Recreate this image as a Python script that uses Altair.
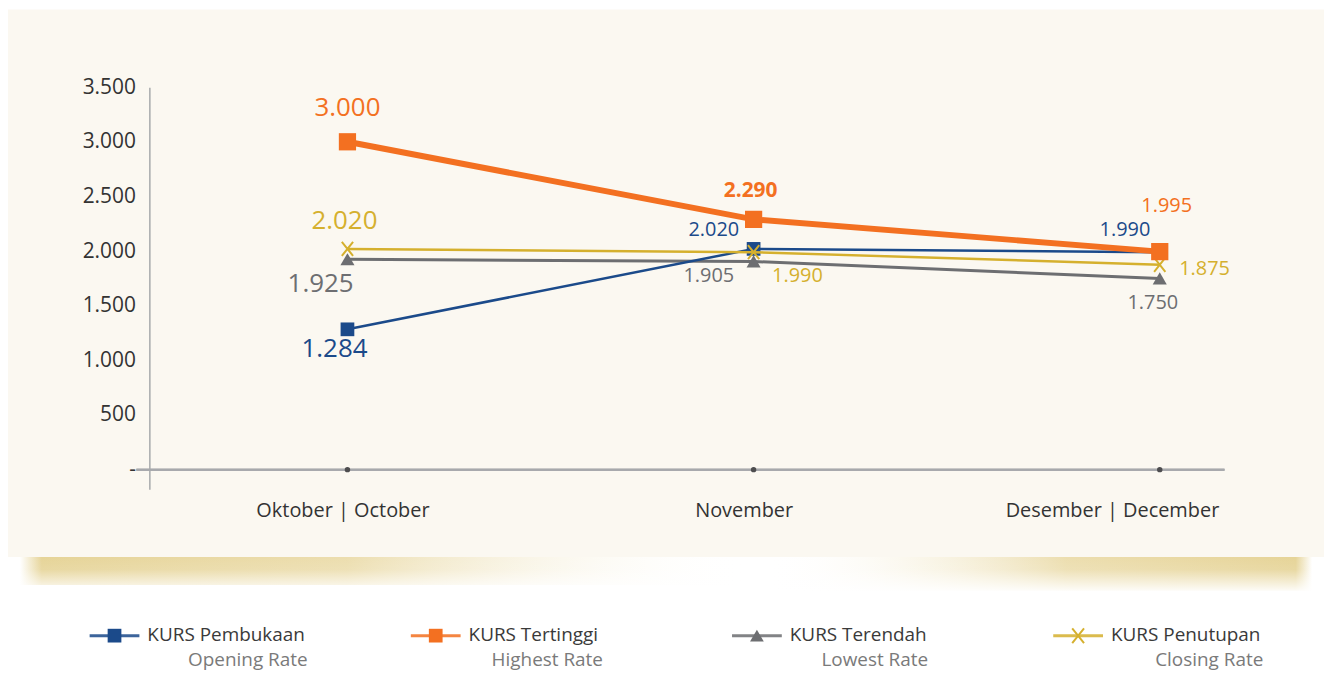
import altair as alt
import pandas as pd

# ---------------- data ----------------
months = ["Oktober | October", "November", "Desember | December"]
series_id = ["KURS Pembukaan", "KURS Tertinggi", "KURS Terendah", "KURS Penutupan"]
series_en = ["Opening Rate", "Highest Rate", "Lowest Rate", "Closing Rate"]
opening = [1284, 2020, 1990]
highest = [3000, 2290, 1995]
lowest = [1925, 1905, 1750]
closing = [2020, 1990, 1875]
y_ticks = [0, 500, 1000, 1500, 2000, 2500, 3000, 3500]

values = {
    "KURS Pembukaan": opening,
    "KURS Tertinggi": highest,
    "KURS Terendah": lowest,
    "KURS Penutupan": closing,
}

# ---------------- styles ----------------
FONT = "Open Sans"
colors = {
    "KURS Pembukaan": "#1B4A8A",
    "KURS Tertinggi": "#F37021",
    "KURS Terendah": "#6D6E71",
    "KURS Penutupan": "#D5B02E",
}
line_width = {"KURS Pembukaan": 2.5, "KURS Tertinggi": 6, "KURS Terendah": 3, "KURS Penutupan": 2.5}
shapes = {
    "KURS Pembukaan": ("square", 190, True),
    "KURS Tertinggi": ("square", 300, True),
    "KURS Terendah": ("triangle-up", 200, True),
    "KURS Penutupan": ("M-0.8,-1L0.8,1M0.8,-1L-0.8,1", 200, False),
}
draw_order = ["KURS Terendah", "KURS Pembukaan", "KURS Penutupan", "KURS Tertinggi"]

# label placement (dx, dy, fontSize, weight) per series / month index
label_style = {
    ("KURS Pembukaan", 0): (-13, 20, 26, "normal"),
    ("KURS Pembukaan", 1): (-40, -19, 20, "normal"),
    ("KURS Pembukaan", 2): (-35, -22, 20, "normal"),
    ("KURS Tertinggi", 0): (0, -34, 26, "normal"),
    ("KURS Tertinggi", 1): (-3, -28, 21, "bold"),
    ("KURS Tertinggi", 2): (7, -46, 20, "normal"),
    ("KURS Terendah", 0): (-27, 25, 26, "normal"),
    ("KURS Terendah", 1): (-45, 15, 20, "normal"),
    ("KURS Terendah", 2): (-7, 25, 20, "normal"),
    ("KURS Penutupan", 0): (-3, -28, 26, "normal"),
    ("KURS Penutupan", 1): (44, 24, 20, "normal"),
    ("KURS Penutupan", 2): (45, 4, 20, "normal"),
}
legend_line2_end = [219, 193, 197, 211]

W, H = 1080, 404

rows = []
for s in series_id:
    for i, m in enumerate(months):
        v = values[s][i]
        rows.append({"series": s, "month": m, "mi": i, "value": v,
                     "label": f"{v:,}".replace(",", ".")})
df = pd.DataFrame(rows)
df_axis = pd.DataFrame({"month": months, "value": [0] * len(months)})
df_leg = pd.DataFrame({"series": series_id, "en": series_en, "idx": list(range(len(series_id)))})
one = pd.DataFrame({"a": [0]})

x_axis = alt.Axis(
    title=None, domain=False, ticks=False, labelAngle=0, zindex=1,
    labelFont=FONT, labelFontSize=20, labelColor="#333333",
    labelPadding=11, labelOverlap=False, labelLimit=0,
    labelOffset={"expr": "datum.value == 'Desember | December' ? -48 : (datum.value == 'November' ? -10 : -5)"},
)
x_enc = alt.X("month:N", sort=months,
              scale=alt.Scale(domain=months, range=[199, 1015], padding=0), axis=x_axis)
y_scale = alt.Scale(domain=[-180, 3500], nice=False, zero=False)
y_axis = alt.Axis(
    title=None, values=y_ticks, ticks=False, grid=False, zindex=1,
    domain=True, domainColor="#A7A9AC", domainWidth=1.5,
    labelFont=FONT, labelFontSize=21, labelColor="#333333", labelPadding=14,
    labelExpr="datum.value == 0 ? '-' : replace(format(datum.value, ','), ',', '.')",
)
y_enc = alt.Y("value:Q", scale=y_scale, axis=y_axis)

layers = []

# panel background
layers.append(
    alt.Chart(one).mark_rect(color="#FBF8F1").encode(
        x=alt.value(-142), x2=alt.value(1180), y=alt.value(-78), y2=alt.value(472)
    )
)
# shadows below the panel
left_grad = alt.Gradient(
    gradient="linear", x1=0, x2=1, y1=0, y2=0,
    stops=[alt.GradientStop(offset=0, color="rgba(230,212,152,0.0)"),
           alt.GradientStop(offset=0.03, color="rgba(230,212,152,1)"),
           alt.GradientStop(offset=0.45, color="rgba(234,218,166,0.9)"),
           alt.GradientStop(offset=1, color="rgba(255,255,255,0)")],
)
right_grad = alt.Gradient(
    gradient="linear", x1=0, x2=1, y1=0, y2=0,
    stops=[alt.GradientStop(offset=0, color="rgba(255,255,255,0)"),
           alt.GradientStop(offset=0.55, color="rgba(234,218,166,0.9)"),
           alt.GradientStop(offset=0.97, color="rgba(230,212,152,1)"),
           alt.GradientStop(offset=1, color="rgba(230,212,152,0.0)")],
)
fade = alt.Gradient(
    gradient="linear", x1=0, x2=0, y1=0, y2=1,
    stops=[alt.GradientStop(offset=0, color="rgba(255,255,255,0)"),
           alt.GradientStop(offset=0.35, color="rgba(255,255,255,0.1)"),
           alt.GradientStop(offset=1, color="rgba(255,255,255,1)")],
)
layers.append(alt.Chart(one).mark_rect(color=left_grad).encode(
    x=alt.value(-130), x2=alt.value(600), y=alt.value(472), y2=alt.value(500)))
layers.append(alt.Chart(one).mark_rect(color=right_grad).encode(
    x=alt.value(620), x2=alt.value(1168), y=alt.value(472), y2=alt.value(506)))
layers.append(alt.Chart(one).mark_rect(color=fade).encode(
    x=alt.value(-142), x2=alt.value(1180), y=alt.value(472), y2=alt.value(508)))

# baseline of x axis and month dots
layers.append(
    alt.Chart(df_axis).mark_rule(color="#A7A9AC", strokeWidth=2).encode(
        x=alt.value(-13), x2=alt.value(W), y=y_enc
    )
)
layers.append(
    alt.Chart(df_axis).mark_point(filled=True, shape="circle", size=30, color="#4D4D4F", opacity=1).encode(
        x=x_enc, y=y_enc
    )
)

# lines + markers
for s in draw_order:
    d = df[df.series == s]
    shp, size, filled = shapes[s]
    layers.append(
        alt.Chart(d).mark_line(color=colors[s], strokeWidth=line_width[s]).encode(x=x_enc, y=y_enc)
    )
    if filled:
        pt = alt.Chart(d).mark_point(shape=shp, size=size, filled=True, color=colors[s], opacity=1)
    else:
        pt = alt.Chart(d).mark_point(shape=shp, size=size, filled=False, color=colors[s],
                                     strokeWidth=2, opacity=1)
    layers.append(pt.encode(x=x_enc, y=y_enc))

# value labels
for (s, mi), (dx, dy, fs, fw) in label_style.items():
    d = df[(df.series == s) & (df.mi == mi)]
    layers.append(
        alt.Chart(d).mark_text(
            dx=dx, dy=dy, fontSize=fs, fontWeight=fw, font=FONT, color=colors[s],
            align="center", baseline="middle",
        ).encode(x=x_enc, y=y_enc, text="label:N")
    )

main = alt.layer(*layers)

# ---------------- legend ----------------
lx = alt.X("idx:Q", scale=alt.Scale(domain=[0, 3], range=[-60, 908]), axis=None)
leg_layers = []
for i, s in enumerate(series_id):
    d = df_leg[df_leg.series == s]
    shp, size, filled = shapes[s]
    leg_layers.append(
        alt.Chart(d).mark_point(shape="M-1,0H1", size=2500, filled=False, color=colors[s],
                                strokeWidth=3, opacity=0.85, xOffset=25).encode(x=lx, y=alt.value(551))
    )
    msize = 190 if shp == "square" else (190 if shp == "triangle-up" else 220)
    if filled:
        mk = alt.Chart(d).mark_point(shape=shp, size=msize, filled=True, color=colors[s], opacity=1, xOffset=25)
    else:
        mk = alt.Chart(d).mark_point(shape=shp, size=msize, filled=False, color=colors[s],
                                     strokeWidth=2, opacity=1, xOffset=25)
    leg_layers.append(mk.encode(x=lx, y=alt.value(551)))
    leg_layers.append(
        alt.Chart(d).mark_text(dx=58, align="left", baseline="middle", font=FONT, fontSize=19,
                               color="#3A3A3A").encode(x=lx, y=alt.value(550), text="series:N")
    )
    leg_layers.append(
        alt.Chart(d).mark_text(dx=legend_line2_end[i], align="right", baseline="middle", font=FONT,
                               fontSize=19, color="#7A7A7A").encode(x=lx, y=alt.value(575), text="en:N")
    )
legend = alt.layer(*leg_layers)

chart = (
    alt.layer(main, legend)
    .resolve_scale(x="independent")
    .properties(width=W, height=H, padding={"left": 0, "top": 0, "right": 0, "bottom": 0},
                background="white")
    .configure_view(stroke=None)
)

chart.save("out.html", embed_options={"renderer": "svg", "actions": False})
